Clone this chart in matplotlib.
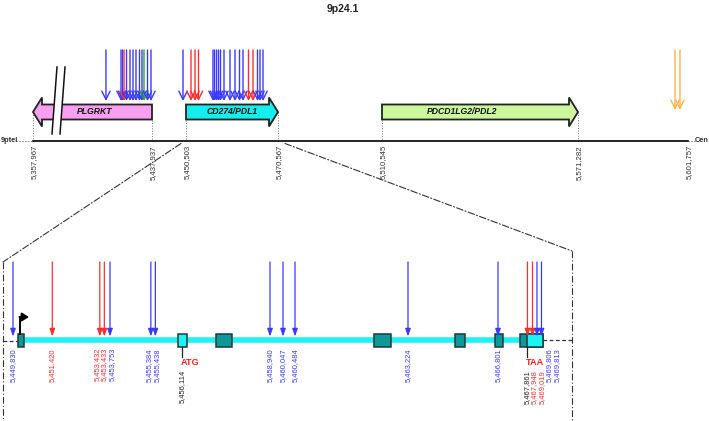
import numpy as np
import matplotlib.pyplot as plt
from matplotlib.patches import Polygon, Rectangle, ConnectionPatch
from matplotlib.transforms import blended_transform_factory

plt.rcParams['font.family'] = ['Liberation Sans', 'DejaVu Sans']

# ---- data -------------------------------------------------------------
region = '9p24.1'
gene_names = ['PLGRKT', 'CD274/PDL1', 'PDCD1LG2/PDL2']
gene_start = [5357967, 5450503, 5510545]
gene_end = [5437937, 5470567, 5571282]
gene_strand = ['-', '+', '+']
top_ticks = [5357967, 5437937, 5450503, 5470567, 5510545, 5571282, 5601757]

# variants over the locus (positions)
top_var_pos = [5407000, 5417100, 5418110, 5419120, 5420800, 5423150, 5425170,
               5427180, 5429540, 5431215, 5432560, 5434910, 5437260,
               5449400, 5451593, 5452466, 5453229, 5456392, 5456719, 5457155,
               5457591, 5458027, 5458791, 5460099, 5461190, 5462171, 5462935,
               5464134, 5465116, 5466097, 5466642, 5467297,
               5598151, 5599536]
top_var_kind = ['blue', 'blue', 'blue', 'red', 'blue', 'blue', 'blue',
                'blue', 'blue', 'blue', 'green', 'blue', 'blue',
                'blue', 'red', 'red', 'red', 'blue', 'blue', 'blue',
                'blue', 'blue', 'blue', 'blue', 'blue', 'blue', 'blue',
                'red', 'red', 'blue', 'blue', 'blue',
                'orange', 'orange']

# CD274 detail
exon_start = [5450030, 5456017, 5457206, 5462400, 5465092, 5466682, 5467605]
exon_end = [5450275, 5456260, 5457720, 5462812, 5465489, 5466984, 5470300]
atg_pos = 5456114
taa_pos = 5467861
var_pos = [5449830, 5451420, 5453432, 5453433, 5453753, 5455384, 5455438,
           5458940, 5460047, 5460484, 5463224, 5466801, 5467948, 5469019,
           5469806, 5469813]
var_kind = ['blue', 'red', 'red', 'red', 'blue', 'blue', 'blue',
            'blue', 'blue', 'blue', 'blue', 'blue', 'red', 'red',
            'blue', 'blue']

# ---- style ------------------------------------------------------------
W, H = 709, 421
gene_face = ['#f7a0f2', '#14eeee', '#ccf79c']
kind_col = {'blue': '#3a3aff', 'red': '#ff2e2e', 'green': '#1fa51f', 'orange': '#ffb34d'}
teal = '#0f9898'
cyan = '#1ff2f2'
dashdot = (0, (6, 2, 1, 2))


def piecewise(bp, px):
    bp = np.asarray(bp, float)
    px = np.asarray(px, float)
    return (lambda x: np.interp(x, bp, px)), (lambda y: np.interp(y, px, bp))


# schematic (not to scale) drawing: piecewise-linear x scales
fwd_t, inv_t = piecewise([5335791, 5357967, 5437937, 5450503, 5470567, 5510545, 5571282, 5601757, 5607574],
                         [0, 33, 152, 186, 278, 382, 578, 688, 709])
fwd_b, inv_b = piecewise([5449304, 5449830, 5453753, 5455384, 5456114, 5458940, 5460047, 5460484,
                          5463224, 5466801, 5467861, 5469019, 5469813, 5492300],
                         [0, 13, 110, 152, 182, 270, 283, 295, 408, 498, 527, 533, 539, 709])


def spread(vals, gap, pinned=()):
    vals = np.asarray(vals, float)
    groups = [[i] for i in np.argsort(vals, kind='stable')]

    def place(g):
        offs = (np.arange(len(g)) - (len(g) - 1) / 2) * gap
        pins = [k for k, i in enumerate(g) if i in pinned]
        base = vals[g[pins[0]]] - offs[pins[0]] if pins else vals[g].mean()
        return base + offs

    merged = True
    while merged:
        merged = False
        for j in range(len(groups) - 1):
            if place(groups[j + 1])[0] - place(groups[j])[-1] < gap - 1e-9:
                groups[j] += groups.pop(j + 1)
                merged = True
                break
    out = np.empty_like(vals)
    for g in groups:
        out[g] = place(g)
    return out


fig = plt.figure(figsize=(W / 100, H / 100), dpi=100)
top = fig.add_axes([0, 0, 1, 1])
bot = fig.add_axes([0, 0, 1, 1])
for ax, f, i in ((top, fwd_t, inv_t), (bot, fwd_b, inv_b)):
    ax.set_xscale('function', functions=(f, i))
    ax.axis('off')
bot.patch.set_visible(False)

# ---- top panel --------------------------------------------------------
base_y, cy, hb, hh, hl = 141, 112, 7.5, 14.5, 9
top.plot([top_ticks[0], top_ticks[-1]], [base_y, base_y], color='black', lw=1.2, zorder=2)
top.plot([inv_t(16), top_ticks[0]], [base_y, base_y], color='#555555', lw=0.8, ls=':')
top.plot([top_ticks[-1], inv_t(695)], [base_y, base_y], color='#555555', lw=0.8, ls=':')
top.text(inv_t(0.5), base_y, '9ptel', fontsize=5.3, fontweight='bold', ha='left', va='center', color='#333333')
top.text(inv_t(709), base_y, 'Cen', fontsize=5.3, fontweight='bold', ha='right', va='center', color='#333333')

for t in top_ticks:
    top.text(inv_t(fwd_t(t) + 1.5), base_y + 4, f'{t:,}', rotation=90, ha='center', va='top',
             fontsize=5.6, color='#333333')

label_frac = [0.52, 0.5, 0.41]
for name, s, e, strand, fc, lf in zip(gene_names, gene_start, gene_end, gene_strand, gene_face, label_frac):
    x0, x1 = fwd_t(s), fwd_t(e)
    if strand == '+':
        pts = [(x0, cy - hb), (x1 - hl, cy - hb), (x1 - hl, cy - hh), (x1, cy),
               (x1 - hl, cy + hh), (x1 - hl, cy + hb), (x0, cy + hb)]
        tip, flat = x1, x0
    else:
        pts = [(x1, cy - hb), (x0 + hl, cy - hb), (x0 + hl, cy - hh), (x0, cy),
               (x0 + hl, cy + hh), (x0 + hl, cy + hb), (x1, cy + hb)]
        tip, flat = x0, x1
    top.add_patch(Polygon([(inv_t(px), py) for px, py in pts], closed=True, facecolor=fc,
                          edgecolor='#222222', lw=1.3, zorder=3))
    top.plot([inv_t(tip)] * 2, [cy, base_y], color='#777777', lw=0.7, ls=':', zorder=1)
    top.plot([inv_t(flat)] * 2, [cy + hb, base_y], color='#777777', lw=0.7, ls=':', zorder=1)
    top.text(inv_t(x0 + lf * (x1 - x0)), cy, name, ha='center', va='center', fontsize=6.2,
             fontweight='bold', fontstyle='italic', color='#111111', zorder=4)

# axis break drawn through PLGRKT
bx = 56
top.add_patch(Polygon([(inv_t(bx - 4), 134), (inv_t(bx + 1), 67), (inv_t(bx + 9), 67), (inv_t(bx + 4), 134)],
                      closed=True, facecolor='white', edgecolor='none', zorder=5))
for dx in (-4, 4):
    top.plot([inv_t(bx + dx), inv_t(bx + dx + 5)], [134, 67], color='#111111', lw=1.1, zorder=6)

for p, k in zip(top_var_pos, top_var_kind):
    tip_y = 110 if k == 'orange' else 101
    top.annotate('', xy=(p, tip_y), xytext=(p, 50),
                 arrowprops=dict(arrowstyle='->,head_length=0.6,head_width=0.3', color=kind_col[k],
                                 lw=1.0, shrinkA=0, shrinkB=0), zorder=4)

fig.text(343 / W, 1 - 9 / H, region, ha='center', va='center', fontsize=7.5, fontweight='bold', color='#222222')

# ---- bottom panel (CD274 detail) ---------------------------------------
ly = 340
bx_left, bx_right = 3, 572
bt = blended_transform_factory(bot.transAxes, bot.transData)

bot.plot([exon_end[0], exon_start[-1]], [ly, ly], color=cyan, lw=4, solid_capstyle='butt', zorder=2)
for i, (s, e) in enumerate(zip(exon_start, exon_end)):
    face = cyan if i == 1 else teal
    bot.add_patch(Rectangle((s, ly - 6.5), e - s, 13, facecolor=face, edgecolor='#1e3a3a', lw=1.1, zorder=3))
# 3' UTR part of last exon
bot.add_patch(Rectangle((taa_pos, ly - 6.5), exon_end[-1] - taa_pos, 13, facecolor=cyan,
                        edgecolor='#1e3a3a', lw=1.1, zorder=3))

bot.plot([bx_left / W, fwd_b(exon_start[0]) / W], [ly + 1, ly + 1], transform=bt, color='#333333', lw=0.9,
         ls=(0, (3, 2)))
bot.plot([fwd_b(exon_end[-1]) / W, bx_right / W], [ly, ly], transform=bt, color='#333333', lw=0.9,
         ls=(0, (3, 2)))

# transcription start
tss = fwd_b(exon_start[0]) + 2
bot.plot([inv_b(tss), inv_b(tss)], [ly - 6.5, ly - 23], color='black', lw=1.4, zorder=4)
bot.annotate('', xy=(inv_b(tss + 9), ly - 23), xytext=(inv_b(tss - 0.5), ly - 23),
             arrowprops=dict(arrowstyle='-|>,head_length=0.4,head_width=0.25', color='black', lw=1.4,
                             shrinkA=0, shrinkB=0), zorder=4)

# variant arrows
arrow_px = spread(fwd_b(var_pos), 4.5)
for px, k in zip(arrow_px, var_kind):
    bot.annotate('', xy=(inv_b(px), ly - 3.5), xytext=(inv_b(px), 262),
                 arrowprops=dict(arrowstyle='-|>,head_length=0.45,head_width=0.16', color=kind_col[k],
                                 lw=0.9, shrinkA=0, shrinkB=0), zorder=5)

# codons
codons = [(atg_pos, 'ATG'), (taa_pos, 'TAA')]
for pos, name in codons:
    bot.plot([pos, pos], [ly + 6.5, ly + 17], color='#222222', lw=0.9, zorder=4)
    bot.text(inv_b(fwd_b(pos) - 1.5), ly + 22.5, name, ha='left', va='center', fontsize=6.6,
             fontweight='bold', color='#ff2020')

# position labels
lab_vals = list(arrow_px) + [fwd_b(p) for p, _ in codons]
lab_text = [f'{p:,}' for p in var_pos] + [f'{p:,}' for p, _ in codons]
lab_col = [kind_col[k] for k in var_kind] + ['#222222'] * len(codons)
n_var = len(var_pos)
lab_px = spread(lab_vals, 7.5, pinned=set(range(n_var, n_var + len(codons))))
codon_px = [fwd_b(p) for p, _ in codons]
for i, (px, txt, c) in enumerate(zip(lab_px, lab_text, lab_col)):
    low = i >= n_var or any(cp - 3 <= px <= cp + 17 for cp in codon_px)
    bot.text(inv_b(px), 370 if low else 348, txt, rotation=90, ha='center', va='top', fontsize=5.4, color=c)

# zoom guides
for xa, ya, xb, yb in ((fwd_t(gene_start[1]) - 5, 143.5, bx_left, 262), (fwd_t(gene_end[1]) + 7, 143.5, bx_right, 251)):
    fig.add_artist(ConnectionPatch(xyA=(inv_t(xa), ya), coordsA=top.transData, xyB=(xb / W, yb), coordsB=bt,
                                   color='#333333', lw=0.8, ls=dashdot))
    bot.plot([xb / W, xb / W], [yb, H], transform=bt, color='#333333', lw=0.8, ls=dashdot)

for ax, f in ((top, inv_t), (bot, inv_b)):
    ax.set_xlim(f(0), f(W))
    ax.set_ylim(H, 0)

fig.savefig('out.png', dpi=100)
